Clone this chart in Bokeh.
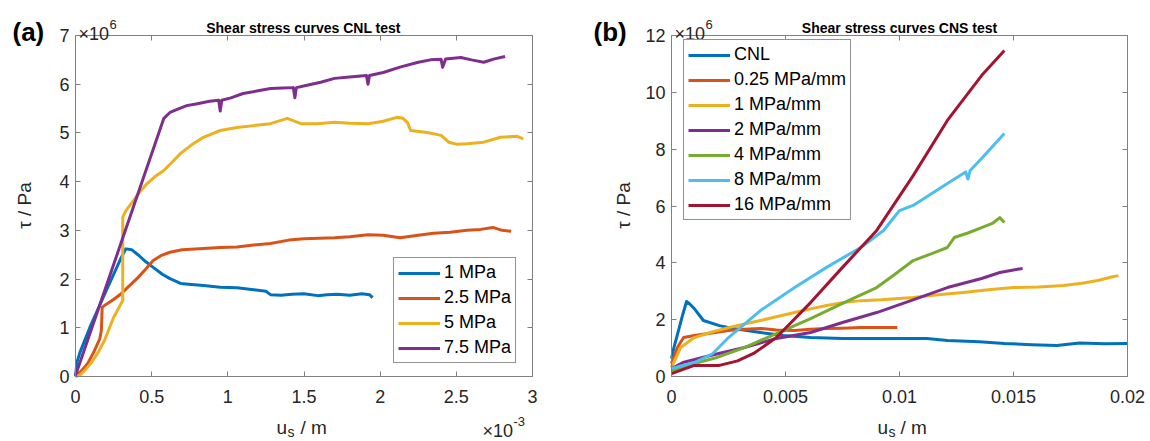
from bokeh.plotting import figure
from bokeh.models import (Label, Legend, LegendItem, LinearAxis, FixedTicker,
                          CustomJSTickFormatter, Range1d)
from bokeh.layouts import row
from bokeh.embed import file_html
from bokeh.resources import INLINE
import math

FONT = "Liberation Sans"
GRAY = "#808080"
TXT = "#262626"
C = ["#0072BD", "#D95319", "#EDB120", "#7E2F8E", "#77AC30", "#4DBEEE", "#A2142F"]

# ---------------- Panel (a): CNL test, x in 1e-3 m, y in 1e6 Pa ----------------
a_xlim = (0, 3)
a_ylim = (0, 7)
a_xticks = [0, 0.5, 1, 1.5, 2, 2.5, 3]
a_yticks = [0, 1, 2, 3, 4, 5, 6, 7]
a_labels = ["1 MPa", "2.5 MPa", "5 MPa", "7.5 MPa"]

b1_x = [0, 0.01, 0.03, 0.10, 0.20, 0.30, 0.33, 0.37, 0.41, 0.46, 0.51, 0.57, 0.62, 0.69,
        0.76, 0.84, 0.95, 1.06, 1.17, 1.25, 1.28, 1.35, 1.42, 1.50, 1.59, 1.65, 1.72,
        1.80, 1.88, 1.93, 1.95]
b1_y = [0, 0.30, 0.50, 1.05, 1.75, 2.44, 2.62, 2.60, 2.50, 2.36, 2.24, 2.10, 2.01, 1.91,
        1.89, 1.87, 1.83, 1.82, 1.78, 1.75, 1.68, 1.67, 1.69, 1.70, 1.66, 1.68, 1.69,
        1.67, 1.70, 1.68, 1.62]

b25_x = [0, 0.04, 0.08, 0.12, 0.16, 0.17, 0.175, 0.20, 0.25, 0.30, 0.36, 0.41, 0.46, 0.51,
         0.56, 0.62, 0.70, 0.84, 0.95, 1.06, 1.17, 1.28, 1.40, 1.50, 1.60, 1.70, 1.80,
         1.92, 2.02, 2.13, 2.25, 2.35, 2.46, 2.57, 2.66, 2.74, 2.80, 2.86]
b25_y = [0, 0.12, 0.27, 0.50, 0.78, 0.95, 1.42, 1.48, 1.58, 1.70, 1.88, 2.03, 2.20, 2.38,
         2.48, 2.55, 2.60, 2.63, 2.65, 2.66, 2.70, 2.73, 2.80, 2.83, 2.84, 2.85, 2.87,
         2.91, 2.90, 2.85, 2.90, 2.94, 2.96, 3.00, 3.02, 3.06, 3.00, 2.98]

b5_x = [0, 0.03, 0.06, 0.10, 0.15, 0.19, 0.25, 0.31, 0.31, 0.33, 0.38, 0.42, 0.47, 0.52,
        0.58, 0.64, 0.69, 0.76, 0.84, 0.95, 1.06, 1.17, 1.28, 1.39, 1.48, 1.59, 1.70,
        1.80, 1.92, 2.02, 2.11, 2.15, 2.18, 2.20, 2.31, 2.40, 2.45, 2.50, 2.57, 2.68,
        2.79, 2.90, 2.94]
b5_y = [0, 0.03, 0.12, 0.27, 0.50, 0.74, 1.21, 1.56, 3.27, 3.40, 3.61, 3.78, 3.96, 4.10,
        4.23, 4.42, 4.58, 4.75, 4.91, 5.05, 5.11, 5.15, 5.19, 5.30, 5.19, 5.19, 5.22,
        5.20, 5.19, 5.24, 5.32, 5.30, 5.21, 5.05, 5.01, 4.95, 4.81, 4.77, 4.78, 4.81,
        4.91, 4.93, 4.88]

b75_x = [0, 0.58, 0.62, 0.68, 0.73, 0.80, 0.88, 0.94, 0.95, 0.96, 1.02, 1.10, 1.19, 1.28,
         1.36, 1.43, 1.44, 1.45, 1.52, 1.61, 1.70, 1.80, 1.91, 1.92, 1.93, 2.02, 2.13,
         2.25, 2.33, 2.40, 2.41, 2.43, 2.53, 2.60, 2.68, 2.75, 2.82]
b75_y = [0.02, 5.30, 5.42, 5.50, 5.56, 5.60, 5.65, 5.67, 5.45, 5.67, 5.72, 5.81, 5.86, 5.91,
         5.92, 5.93, 5.72, 5.93, 5.98, 6.04, 6.12, 6.15, 6.18, 6.00, 6.18, 6.24, 6.35,
         6.45, 6.50, 6.51, 6.35, 6.52, 6.55, 6.50, 6.45, 6.52, 6.57]

# ---------------- Panel (b): CNS test, x in m, y in 1e6 Pa ----------------
b_xlim = (0, 0.02)
b_ylim = (0, 12)
b_xticks = [0, 0.005, 0.01, 0.015, 0.02]
b_yticks = [0, 2, 4, 6, 8, 10, 12]
b_labels = ["CNL", "0.25 MPa/mm", "1 MPa/mm", "2 MPa/mm", "4 MPa/mm", "8 MPa/mm", "16 MPa/mm"]

cnl_x = [0, 0.0001, 0.0003, 0.0005, 0.00066, 0.0008, 0.001, 0.0014, 0.0021, 0.0027, 0.0033,
         0.0039, 0.0049, 0.0061, 0.0075, 0.009, 0.0105, 0.0112, 0.0121, 0.0135, 0.0146,
         0.0158, 0.0169, 0.0179, 0.019, 0.02]
cnl_y = [0.63, 1.00, 1.60, 2.20, 2.64, 2.55, 2.39, 1.97, 1.79, 1.69, 1.62, 1.55, 1.44, 1.37,
         1.34, 1.34, 1.34, 1.34, 1.27, 1.22, 1.16, 1.12, 1.09, 1.18, 1.15, 1.16]

s025_x = [0, 0.00026, 0.00053, 0.001, 0.0017, 0.0025, 0.0032, 0.0039, 0.0046, 0.0054,
          0.0061, 0.0068, 0.0075, 0.0083, 0.009, 0.0099]
s025_y = [0.46, 1.02, 1.37, 1.44, 1.52, 1.62, 1.66, 1.69, 1.64, 1.62, 1.66, 1.69, 1.70,
          1.72, 1.72, 1.72]

s1_x = [0, 0.0004, 0.001, 0.0017, 0.0025, 0.0032, 0.0039, 0.0046, 0.0054, 0.0061, 0.0068,
        0.0075, 0.0083, 0.0092, 0.0106, 0.0117, 0.0128, 0.0139, 0.015, 0.0161, 0.0172,
        0.018, 0.0187, 0.0193, 0.0196]
s1_y = [0.32, 1.02, 1.37, 1.55, 1.72, 1.85, 1.97, 2.10, 2.25, 2.38, 2.50, 2.60, 2.67, 2.70,
        2.78, 2.88, 2.96, 3.05, 3.13, 3.15, 3.20, 3.28, 3.38, 3.50, 3.55]

s2_x = [0, 0.0005, 0.0017, 0.0032, 0.0046, 0.0061, 0.0075, 0.009, 0.0105, 0.0121, 0.0136,
        0.0144, 0.015, 0.0154]
s2_y = [0.28, 0.49, 0.74, 1.02, 1.34, 1.55, 1.90, 2.25, 2.67, 3.13, 3.45, 3.66, 3.75, 3.80]

s4_x = [0, 0.001, 0.002, 0.0032, 0.0046, 0.0061, 0.0075, 0.009, 0.0098, 0.0106, 0.0115,
        0.0121, 0.0124, 0.013, 0.0136, 0.0141, 0.0144, 0.0146]
s4_y = [0.21, 0.46, 0.67, 1.02, 1.51, 2.04, 2.57, 3.13, 3.60, 4.08, 4.35, 4.54, 4.89, 5.05,
        5.24, 5.40, 5.59, 5.42]

s8_x = [0, 0.001, 0.0018, 0.0025, 0.0039, 0.0054, 0.0068, 0.0083, 0.0093, 0.01, 0.0106,
        0.0121, 0.0129, 0.013, 0.0131, 0.0136, 0.0146]
s8_y = [0.28, 0.49, 0.80, 1.37, 2.32, 3.13, 3.84, 4.54, 5.14, 5.84, 6.02, 6.79, 7.20, 6.95,
        7.25, 7.67, 8.55]

s16_x = [0, 0.001, 0.0021, 0.0029, 0.0036, 0.0046, 0.0061, 0.0075, 0.009, 0.0106, 0.0121,
         0.0136, 0.0146]
s16_y = [0.10, 0.39, 0.39, 0.55, 0.81, 1.37, 2.60, 3.84, 5.14, 7.07, 9.01, 10.59, 11.47]

# ---------------- layout (page pixels) ----------------
OFF = 0
FIG_H = 440
WA, WB = 588, 560
ORG_A = OFF            # page x of figure (a) left edge
ORG_B = OFF + WA       # page x of figure (b) left edge
BOX_A = (75, 532, 35, 376)   # axes box on the page: left, right, top, bottom
BOX_B = (671, 1127, 35, 376)


def lab(p, org, px, py, text, size, bold=False, align="left", baseline="alphabetic",
        angle=0.0, color=TXT):
    p.add_layout(Label(x=px - org, y=FIG_H - (py - OFF), x_units="screen", y_units="screen",
                       text=text, text_font=FONT, text_font_size=f"{size}px",
                       text_font_style="bold" if bold else "normal",
                       text_align=align, text_baseline=baseline, angle=angle,
                       text_color=color))


def make_fig(W, org, box, xlim, ylim, xticks, yticks):
    l, r, t, b = box[0] - org, box[1] - org, box[2] - OFF, box[3] - OFF
    kx = (xlim[1] - xlim[0]) / (r - l)
    ky = (ylim[1] - ylim[0]) / (b - t)
    xr = Range1d(xlim[0] - l * kx, xlim[1] + (W - r) * kx)
    yr = Range1d(ylim[0] - (FIG_H - b) * ky, ylim[1] + t * ky)
    p = figure(width=W, height=FIG_H, x_range=xr, y_range=yr, min_border=0,
               output_backend="svg", toolbar_location=None, tools="")
    p.grid.visible = False
    p.background_fill_color = "white"
    p.border_fill_color = "white"
    p.outline_line_color = None
    fmt = CustomJSTickFormatter(code="return tick.toString();")
    blank = CustomJSTickFormatter(code="return '';")
    xa, ya = p.xaxis[0], p.yaxis[0]
    xa.fixed_location = ylim[0]
    ya.fixed_location = xlim[0]
    xa.bounds = xlim
    ya.bounds = ylim
    xa.ticker = FixedTicker(ticks=xticks)
    ya.ticker = FixedTicker(ticks=yticks)
    ta = LinearAxis(fixed_location=ylim[1], bounds=xlim, ticker=FixedTicker(ticks=xticks),
                    formatter=blank)
    ra = LinearAxis(fixed_location=xlim[1], bounds=ylim, ticker=FixedTicker(ticks=yticks),
                    formatter=blank)
    p.add_layout(ta, "above")
    p.add_layout(ra, "right")
    for ax in (xa, ya, ta, ra):
        ax.major_tick_in = 5
        ax.major_tick_out = 0
        ax.minor_tick_line_color = None
        ax.major_tick_line_color = GRAY
        ax.axis_line_color = GRAY
        ax.axis_line_width = 1
    for ax, stand in ((xa, 13), (ya, 6)):
        ax.formatter = fmt
        ax.major_label_text_font = FONT
        ax.major_label_text_font_size = "18px"
        ax.major_label_text_color = TXT
        ax.major_label_standoff = stand
    return p


def add_legend(p, org, rends, labels, px, py_bottom):
    items = [LegendItem(label=l, renderers=[r]) for l, r in zip(labels, rends)]
    leg = Legend(items=items, location=(px - org, FIG_H - (py_bottom - OFF)),
                 label_text_font=FONT, label_text_font_size="18px",
                 label_text_color="black", label_text_baseline="middle",
                 glyph_width=42, glyph_height=20, label_height=20, label_standoff=4,
                 padding=4, spacing=4, margin=0, border_line_color=TXT,
                 border_line_width=1, background_fill_alpha=1.0)
    p.add_layout(leg)


# ---------------- figure (a) ----------------
pa = make_fig(WA, ORG_A, BOX_A, a_xlim, a_ylim, a_xticks, a_yticks)
ra_ = []
for xs, ys, c in ((b1_x, b1_y, C[0]), (b25_x, b25_y, C[1]), (b5_x, b5_y, C[2]),
                  (b75_x, b75_y, C[3])):
    ra_.append(pa.line(xs, ys, line_color=c, line_width=3, line_join="round"))
add_legend(pa, ORG_A, ra_, a_labels, 393, 363)

lab(pa, ORG_A, 12, 31, "(a)", 26, bold=True, color="black")
lab(pa, ORG_A, 78, 33, "\u00d710", 18)
lab(pa, ORG_A, 109, 24, "6", 13)
lab(pa, ORG_A, 303, 27, "Shear stress curves CNL test", 14, bold=True, align="center",
    color="black")
lab(pa, ORG_A, 276, 427, "u", 19)
lab(pa, ORG_A, 287, 431, "s", 14)
lab(pa, ORG_A, 300, 427, "/ m", 19)
lab(pa, ORG_A, 482, 430, "\u00d710", 18)
lab(pa, ORG_A, 513, 421, "-3", 13)
lab(pa, ORG_A, 24, 205, "\u03c4 / Pa", 19, align="center", baseline="middle",
    angle=math.pi / 2)

# ---------------- figure (b) ----------------
pb = make_fig(WB, ORG_B, BOX_B, b_xlim, b_ylim, b_xticks, b_yticks)
rb_ = []
for xs, ys, c in ((cnl_x, cnl_y, C[0]), (s025_x, s025_y, C[1]), (s1_x, s1_y, C[2]),
                  (s2_x, s2_y, C[3]), (s4_x, s4_y, C[4]), (s8_x, s8_y, C[5]),
                  (s16_x, s16_y, C[6])):
    rb_.append(pb.line(xs, ys, line_color=c, line_width=3, line_join="round"))
add_legend(pb, ORG_B, rb_, b_labels, 683, 220)

lab(pb, ORG_B, 593, 31, "(b)", 26, bold=True, color="black")
lab(pb, ORG_B, 674, 33, "\u00d710", 18)
lab(pb, ORG_B, 705, 24, "6", 13)
lab(pb, ORG_B, 899, 27, "Shear stress curves CNS test", 14, bold=True, align="center",
    color="black")
lab(pb, ORG_B, 877, 427, "u", 19)
lab(pb, ORG_B, 888, 431, "s", 14)
lab(pb, ORG_B, 900, 427, "/ m", 19)
lab(pb, ORG_B, 623, 205, "\u03c4 / Pa", 19, align="center", baseline="middle",
    angle=math.pi / 2)

layout = row(pa, pb)
open("out.html", "w").write(file_html(layout, INLINE))
